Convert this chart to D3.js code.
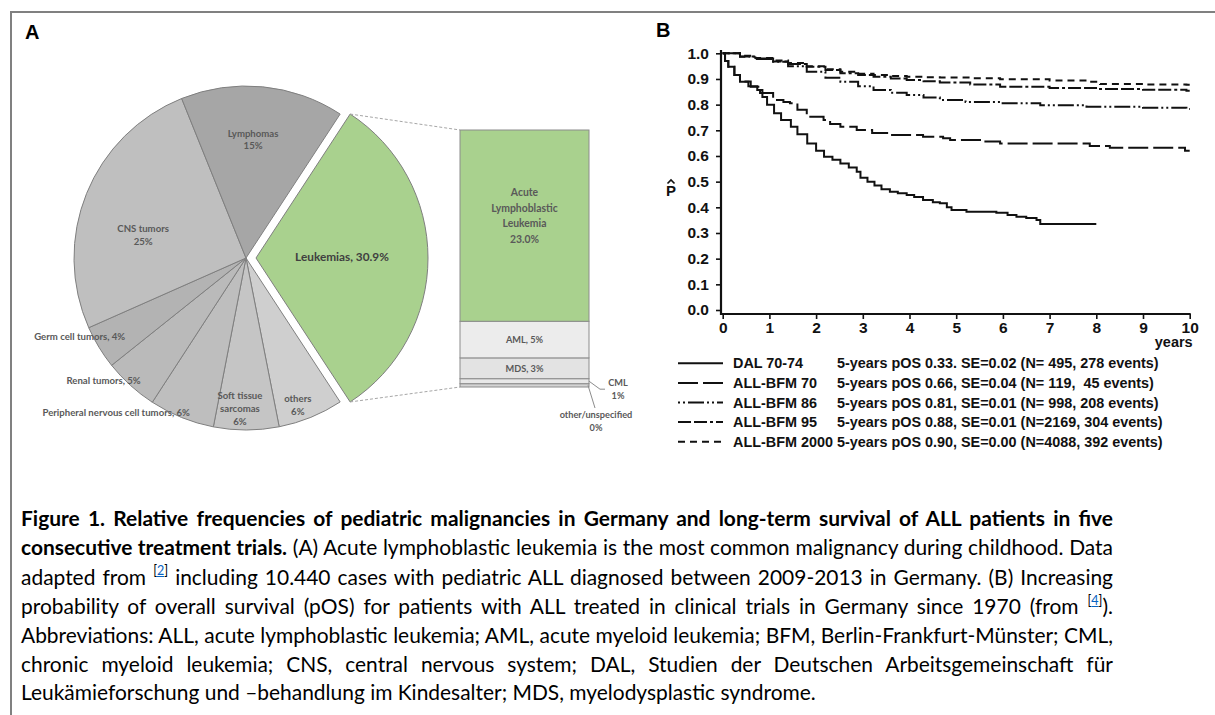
<!DOCTYPE html>
<html lang="en">
<head>
<meta charset="UTF-8">
<title>Figure 1</title>
<style>
    html, body { margin: 0; padding: 0; background: #fff; }
    #wrapper { position: relative; width: 1215px; height: 715px; overflow: hidden; }
    svg { position: absolute; left: 0; top: 0; }
    .cap {
        position: absolute;
        left: 21px;
        width: 1092px;
        font-family: Lato, "Open Sans", sans-serif;
        color: #000;
        text-align: justify;
        text-align-last: justify;
    }
    .cap.last { text-align-last: left; }
    .ref { font-size: 0.6em; position: relative; top: -0.75em; }
    .ref a { color: #0563c1; text-decoration: underline; }
    #measure { position: absolute; visibility: hidden; white-space: nowrap; font-family: Lato, "Open Sans", sans-serif; }
</style>
</head>
<body>
<div id="wrapper"></div>
<script src="https://d3js.org/d3.v7.min.js"></script>
<script>
// ---- panel A: pie of pediatric malignancies (clockwise from Leukemias) ----
const pieCategories = ["Leukemias", "others", "Soft tissue sarcomas", "Peripheral nervous cell tumors",
    "Renal tumors", "Germ cell tumors", "CNS tumors", "Lymphomas"];
const pieValues = [30.9, 6, 6, 6, 5, 4, 25, 15];
const pieLabels = [["Leukemias, 30.9%"], ["others", "6%"], ["Soft tissue", "sarcomas", "6%"],
    ["Peripheral nervous cell tumors, 6%"], ["Renal tumors, 5%"], ["Germ cell tumors, 4%"],
    ["CNS tumors", "25%"], ["Lymphomas", "15%"]];

// leukemia breakdown, bottom to top
const leukCategories = ["other/unspecified", "CML", "MDS", "AML", "ALL"];
const leukValues = [0.4, 0.6, 2.5, 4.4, 23.0];
const leukLabels = [["other/unspecified", "0%"], ["CML", "1%"], ["MDS, 3%"], ["AML, 5%"],
    ["Acute", "Lymphoblastic", "Leukemia", "23.0%"]];

// ---- panel B: Kaplan-Meier survival ----
const yearTicks = [0, 1, 2, 3, 4, 5, 6, 7, 8, 9, 10];
const survTicks = [0, 0.1, 0.2, 0.3, 0.4, 0.5, 0.6, 0.7, 0.8, 0.9, 1.0];
const studies = ["DAL 70-74", "ALL-BFM 70", "ALL-BFM 86", "ALL-BFM 95", "ALL-BFM 2000"];
const studyStats = [
    "5-years pOS 0.33. SE=0.02 (N= 495, 278 events)",
    "5-years pOS 0.66, SE=0.04 (N= 119,  45 events)",
    "5-years pOS 0.81, SE=0.01 (N= 998, 208 events)",
    "5-years pOS 0.88, SE=0.01 (N=2169, 304 events)",
    "5-years pOS 0.90, SE=0.00 (N=4088, 392 events)"
];
const dalYears = [0, 0.05, 0.12, 0.25, 0.37, 0.55, 0.74, 0.85, 0.95, 1.1, 1.25, 1.46, 1.6, 1.81, 2.0,
    2.17, 2.35, 2.52, 2.7, 2.87, 2.95, 3.1, 3.25, 3.4, 3.58, 3.75, 3.94, 4.1, 4.29, 4.5,
    4.65, 4.8, 4.9, 5.22, 5.86, 6.1, 6.29, 6.5, 6.72, 6.8, 8.0];
const dalSurv = [1.0, 0.97, 0.948, 0.915, 0.889, 0.872, 0.857, 0.83, 0.8, 0.766, 0.74, 0.714, 0.685, 0.649, 0.62,
    0.597, 0.585, 0.571, 0.555, 0.539, 0.515, 0.5, 0.485, 0.47, 0.461, 0.455, 0.448, 0.44, 0.429, 0.42,
    0.416, 0.4, 0.39, 0.383, 0.379, 0.37, 0.363, 0.358, 0.351, 0.335, 0.335];
const bfm70Years = [0, 0.05, 0.12, 0.25, 0.37, 0.6, 0.8, 1.08, 1.3, 1.44, 1.6, 1.8, 2.16, 2.3, 2.52,
    2.87, 3.2, 3.58, 4.29, 4.72, 4.87, 5.51, 5.94, 7.79, 7.86, 8.29, 9.9, 10.0];
const bfm70Surv = [1.0, 0.97, 0.948, 0.915, 0.89, 0.87, 0.845, 0.818, 0.81, 0.805, 0.78, 0.753, 0.74, 0.725, 0.714,
    0.701, 0.69, 0.682, 0.675, 0.669, 0.662, 0.656, 0.649, 0.649, 0.639, 0.632, 0.62, 0.62];
const bfm86Years = [0, 0.37, 0.7, 1.08, 1.4, 1.8, 2.2, 2.52, 2.9, 3.23, 3.6, 3.94, 4.3, 4.65, 5.2,
    5.94, 6.8, 7.79, 9.0, 9.93, 10.0];
const bfm86Surv = [1.0, 0.987, 0.978, 0.967, 0.95, 0.928, 0.905, 0.889, 0.872, 0.857, 0.846, 0.838, 0.828, 0.818, 0.81,
    0.805, 0.798, 0.792, 0.788, 0.783, 0.783];
const bfm95Years = [0, 0.37, 0.7, 1.08, 1.4, 1.8, 2.2, 2.52, 2.9, 3.23, 3.6, 3.94, 4.3, 4.65, 5.3,
    5.94, 7.0, 8.08, 9.0, 9.93, 10.0];
const bfm95Surv = [1.0, 0.988, 0.98, 0.968, 0.958, 0.948, 0.935, 0.922, 0.915, 0.909, 0.902, 0.896, 0.891, 0.886, 0.878,
    0.87, 0.865, 0.861, 0.858, 0.854, 0.854];
const bfm2000Years = [0, 0.37, 0.7, 1.08, 1.4, 1.8, 2.2, 2.52, 2.9, 3.23, 3.6, 3.94, 4.3, 4.65, 5.3,
    5.94, 7.0, 7.79, 8.08, 9.0, 9.93, 10.0];
const bfm2000Surv = [1.0, 0.99, 0.982, 0.972, 0.962, 0.95, 0.938, 0.928, 0.92, 0.915, 0.912, 0.909, 0.907, 0.906, 0.903,
    0.899, 0.894, 0.889, 0.88, 0.878, 0.877, 0.877];

const captionLines = [
    "<b>Figure 1. Relative frequencies of pediatric malignancies in Germany and long-term survival of ALL patients in five</b>",
    "<b>consecutive treatment trials.</b> (A) Acute lymphoblastic leukemia is the most common malignancy during childhood. Data",
    "adapted from <span class='ref'>[<a>2</a>]</span> including 10.440 cases with pediatric ALL diagnosed between 2009-2013 in Germany. (B) Increasing",
    "probability of overall survival (pOS) for patients with ALL treated in clinical trials in Germany since 1970 (from <span class='ref'>[<a>4</a>]</span>).",
    "Abbreviations: ALL, acute lymphoblastic leukemia; AML, acute myeloid leukemia; BFM, Berlin-Frankfurt-Münster; CML,",
    "chronic myeloid leukemia; CNS, central nervous system; DAL, Studien der Deutschen Arbeitsgemeinschaft für",
    "Leukämieforschung und –behandlung im Kindesalter; MDS, myelodysplastic syndrome."
];

const wrapper = d3.select('#wrapper');
const svg = wrapper.append('svg').attr('width', 1215).attr('height', 715);
const calibri = 'Lato, "Open Sans", sans-serif';
const arial = '"Liberation Sans", Arial, sans-serif';

// frame
svg.append('path')
    .attr('d', 'M11,715V12H1215')
    .attr('fill', 'none')
    .attr('stroke', '#808080')
    .attr('stroke-width', 2);

svg.append('text').text('A')
    .attr('x', 25).attr('y', 39)
    .attr('font-family', arial).attr('font-weight', 700).attr('font-size', 20);
svg.append('text').text('B')
    .attr('x', 656).attr('y', 37)
    .attr('font-family', arial).attr('font-weight', 700).attr('font-size', 20);

// ================= panel A =================
const cx = 246, cy = 258, R = 172, explode = 10;
const total = d3.sum(pieValues);
const leukAngle = pieValues[0] / total * 2 * Math.PI;
const start = Math.PI / 2 - leukAngle / 2;

const pie = d3.pie().sort(null).value(d => d)
    .startAngle(start).endAngle(start + 2 * Math.PI);
const arcs = pie(pieValues);
const arc = d3.arc().innerRadius(0).outerRadius(R);

const sliceColors = ['#a9d18e', '#cfcfcf', '#c5c5c5', '#bebebe', '#bababa', '#b3b3b3', '#bfbfbf', '#a6a6a6'];
// label position: [radius factor, angle nudge in degrees]
const labelPolar = [[0.5, -0.9], [0.904, 2.7], [0.877, 2.4], [1.175, 18], [1.094, 7], [1.07, 5.9], [0.613, -9.4], [0.69, -2.2]];

const offsetOf = (d, i) => {
    if (i !== 0) return [0, 0];
    const mid = (d.startAngle + d.endAngle) / 2;
    return [explode * Math.sin(mid), -explode * Math.cos(mid)];
};

const pieG = svg.append('g').attr('transform', `translate(${cx},${cy})`);
pieG.selectAll('path')
    .data(arcs)
    .join('path')
    .attr('transform', (d, i) => `translate(${offsetOf(d, i)})`)
    .attr('d', arc)
    .attr('fill', (d, i) => sliceColors[i])
    .attr('stroke', '#7f7f7f')
    .attr('stroke-width', 1);

arcs.forEach((d, i) => {
    const [k, nudge] = labelPolar[i];
    const a = (d.startAngle + d.endAngle) / 2 + nudge * Math.PI / 180;
    const off = offsetOf(d, i);
    const px = off[0] + k * R * Math.sin(a);
    const py = off[1] - k * R * Math.cos(a);
    const fs = i === 0 ? 11.8 : 9.6;
    const lh = i === 0 ? 14 : 12.8;
    const lines = pieLabels[i];
    const t = pieG.append('text')
        .attr('font-family', calibri).attr('font-weight', 700)
        .attr('font-size', fs)
        .attr('fill', i === 0 ? '#404040' : '#595959')
        .attr('text-anchor', 'middle');
    lines.forEach((ln, j) => {
        t.append('tspan')
            .attr('x', px)
            .attr('y', py + (j - (lines.length - 1) / 2) * lh)
            .attr('dominant-baseline', 'central')
            .text(ln);
    });
});

// stacked bar of leukemia subtypes
const barX = d3.scaleBand().domain(['Leukemias']).range([460, 589]);
const barY = d3.scaleLinear().domain([0, d3.sum(leukValues)]).range([387, 130]);
let acc = 0;
const segs = leukValues.map((v, i) => {
    const s = { i, y0: acc, y1: acc + v };
    acc += v;
    return s;
});
const segColors = ['#d4d4d4', '#e8e8e8', '#e3e3e3', '#ececec', '#a9d18e'];
const bx = barX('Leukemias'), bw = barX.bandwidth();

svg.append('g').selectAll('rect')
    .data(segs)
    .join('rect')
    .attr('x', bx)
    .attr('y', d => barY(d.y1))
    .attr('width', bw)
    .attr('height', d => barY(d.y0) - barY(d.y1))
    .attr('fill', d => segColors[d.i])
    .attr('stroke', '#8c8c8c')
    .attr('stroke-width', 1);

// dashed zoom lines from the leukemia slice to the bar
const leuk = arcs[0];
const lo = offsetOf(leuk, 0);
const edgePt = a => [cx + lo[0] + R * Math.sin(a), cy + lo[1] - R * Math.cos(a)];
const topPt = edgePt(leuk.startAngle), botPt = edgePt(leuk.endAngle);
svg.append('g').selectAll('line')
    .data([[topPt, [bx, barY(acc)]], [botPt, [bx, barY(0)]]])
    .join('line')
    .attr('x1', d => d[0][0]).attr('y1', d => d[0][1])
    .attr('x2', d => d[1][0]).attr('y2', d => d[1][1])
    .attr('stroke', '#a6a6a6')
    .attr('stroke-width', 1)
    .attr('stroke-dasharray', '3,2');

// segment labels
segs.forEach(s => {
    const lines = leukLabels[s.i];
    const mid = (barY(s.y0) + barY(s.y1)) / 2;
    let px = bx + bw / 2, py = mid, fs = 9.2, lh = 12.5;
    if (s.i === 4) { fs = 10.4; lh = 15.7; py = mid - 10; }
    if (s.i === 1) {   // CML, leader to the right
        px = bx + bw + 29; py = mid + 8;
        svg.append('path')
            .attr('d', `M${bx + bw},${mid}L${bx + bw + 11},${mid + 8}L${bx + bw + 16},${mid + 8}`)
            .attr('fill', 'none').attr('stroke', '#8c8c8c').attr('stroke-width', 1);
    }
    if (s.i === 0) {   // other/unspecified, leader downwards
        px = bx + bw + 7; py = barY(0) + 34;
        svg.append('line')
            .attr('x1', bx + bw - 1).attr('y1', mid)
            .attr('x2', bx + bw + 6).attr('y2', barY(0) + 21)
            .attr('stroke', '#8c8c8c').attr('stroke-width', 1);
    }
    const t = svg.append('text')
        .attr('font-family', calibri).attr('font-weight', 700)
        .attr('font-size', fs).attr('fill', '#595959')
        .attr('text-anchor', 'middle');
    lines.forEach((ln, j) => {
        t.append('tspan')
            .attr('x', px)
            .attr('y', py + (j - (lines.length - 1) / 2) * lh)
            .attr('dominant-baseline', 'central')
            .text(ln);
    });
});

// ================= panel B =================
const x = d3.scaleLinear().domain([0, 10]).range([722.7, 1189.7]);
const y = d3.scaleLinear().domain([0, 1]).range([310, 53.3]);
const axisY0 = 314, axisX0 = 721;

const yAxis = d3.axisLeft(y)
    .tickValues(survTicks)
    .tickFormat(d3.format('.1f'))
    .tickSize(5)
    .tickPadding(7);
const gy = svg.append('g').attr('transform', `translate(${axisX0},0)`).call(yAxis);
gy.select('.domain').remove();

const xAxis = d3.axisBottom(x)
    .tickValues(yearTicks)
    .tickSize(5)
    .tickPadding(3);
const gx = svg.append('g').attr('transform', `translate(0,${axisY0})`).call(xAxis);
gx.select('.domain').remove();

[gx, gy].forEach(g => {
    g.selectAll('.tick line').attr('stroke', '#111').attr('stroke-width', 1.6);
    g.selectAll('.tick text')
        .attr('font-family', arial).attr('font-weight', 700)
        .attr('font-size', 15.5).attr('fill', '#111');
});

// axis lines
svg.append('path')
    .attr('d', `M${axisX0},50V${axisY0}H${x(10) + 1}`)
    .attr('fill', 'none')
    .attr('stroke', '#111')
    .attr('stroke-width', 2.2);

svg.append('text').text('years')
    .attr('x', x(10) + 3).attr('y', 347)
    .attr('text-anchor', 'end')
    .attr('font-family', arial).attr('font-weight', 700).attr('font-size', 14.5).attr('fill', '#111');

// P-hat label: the letter plus a drawn hat
svg.append('text').text('P')
    .attr('x', 671).attr('y', 190)
    .attr('text-anchor', 'middle').attr('dominant-baseline', 'central')
    .attr('font-family', arial).attr('font-weight', 700).attr('font-size', 15).attr('fill', '#111');
svg.append('path')
    .attr('d', 'M667.5,183.5L671,180L674.5,183.5')
    .attr('fill', 'none').attr('stroke', '#111').attr('stroke-width', 1.6);

const seriesYears = [dalYears, bfm70Years, bfm86Years, bfm95Years, bfm2000Years];
const seriesSurv = [dalSurv, bfm70Surv, bfm86Surv, bfm95Surv, bfm2000Surv];
const dashes = ['none', '20,5', '2,3,2,3,16,3', '13,3,13,3,3,3', '7,5'];

const kmLine = d3.line()
    .x(d => x(d[0]))
    .y(d => y(d[1]))
    .curve(d3.curveStepAfter);

svg.append('g').selectAll('path')
    .data(studies.map((s, i) => seriesYears[i].map((t, j) => [t, seriesSurv[i][j]])))
    .join('path')
    .attr('d', kmLine)
    .attr('fill', 'none')
    .attr('stroke', '#111')
    .attr('stroke-width', 2)
    .attr('stroke-dasharray', (d, i) => dashes[i]);

// legend
const legY = d3.scalePoint().domain(studies).range([363.3, 441.7]);
const leg = svg.append('g').selectAll('g')
    .data(studies)
    .join('g')
    .attr('transform', d => `translate(0,${legY(d)})`);
leg.append('line')
    .attr('x1', 678).attr('x2', 723)
    .attr('stroke', '#111').attr('stroke-width', 2)
    .attr('stroke-dasharray', (d, i) => dashes[i]);
leg.append('text')
    .attr('x', 733)
    .attr('dominant-baseline', 'central')
    .attr('font-family', arial).attr('font-weight', 700).attr('font-size', 14.4).attr('fill', '#111')
    .text(d => d);
leg.append('text')
    .attr('x', 837)
    .attr('dominant-baseline', 'central')
    .attr('font-family', arial).attr('font-weight', 700).attr('font-size', 14.4).attr('fill', '#111')
    .style('white-space', 'pre')
    .text((d, i) => studyStats[i]);

// ================= caption =================
const capCenters = [518, 547, 576.5, 606, 635, 663.5, 692];
const measure = wrapper.append('span').attr('id', 'measure');
const widthAt = (html, fs) => {
    measure.style('font-size', fs + 'px').html(html);
    return measure.node().getBoundingClientRect().width;
};
let capFs = 18 * 809 / widthAt(captionLines[6], 18);
const widest = d3.max(captionLines.slice(0, 6), l => widthAt(l, capFs));
if (widest > 1090) capFs *= 1090 / widest;
measure.remove();

wrapper.selectAll('div.cap')
    .data(captionLines)
    .join('div')
    .attr('class', (d, i) => i === captionLines.length - 1 ? 'cap last' : 'cap')
    .style('font-size', capFs + 'px')
    .style('line-height', '28px')
    .style('top', (d, i) => (capCenters[i] - 14) + 'px')
    .html(d => d);
</script>
</body>
</html>
